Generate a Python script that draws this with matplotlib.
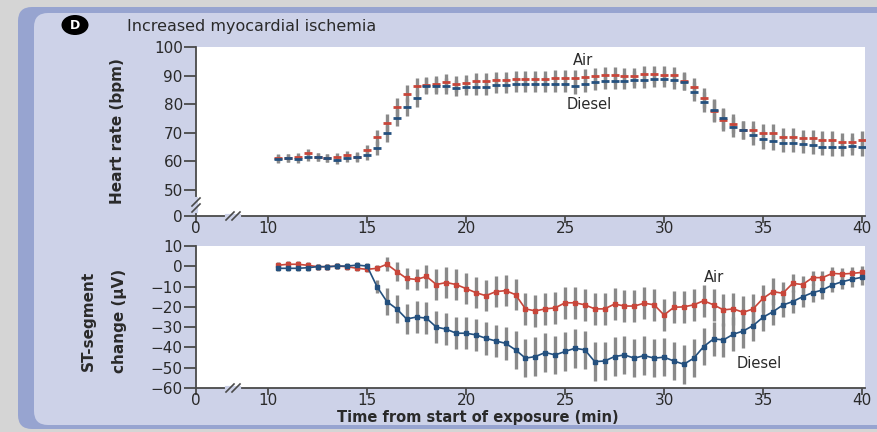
import numpy as np
import matplotlib
matplotlib.use("Agg")
import matplotlib.pyplot as plt
from matplotlib.patches import FancyBboxPatch, Ellipse
from matplotlib.lines import Line2D

# ---------------- data ----------------
times = [10.5, 11.0, 11.5, 12.0, 12.5, 13.0, 13.5, 14.0, 14.5, 15.0,
         15.5, 16.0, 16.5, 17.0, 17.5, 18.0, 18.5, 19.0, 19.5, 20.0,
         20.5, 21.0, 21.5, 22.0, 22.5, 23.0, 23.5, 24.0, 24.5, 25.0,
         25.5, 26.0, 26.5, 27.0, 27.5, 28.0, 28.5, 29.0, 29.5, 30.0,
         30.5, 31.0, 31.5, 32.0, 32.5, 33.0, 33.5, 34.0, 34.5, 35.0,
         35.5, 36.0, 36.5, 37.0, 37.5, 38.0, 38.5, 39.0, 39.5, 40.0]

hr_air = [61.1, 61.3, 61.7, 62.8, 61.7, 61.3, 61.7, 62.2, 61.7, 64.0,
          68.4, 73.5, 79.1, 83.8, 86.4, 86.9, 87.1, 87.9, 87.3, 87.6,
          88.2, 88.2, 88.7, 88.7, 89.0, 89.0, 89.0, 89.0, 89.4, 89.4,
          89.4, 89.6, 89.9, 90.2, 90.2, 89.9, 89.9, 90.6, 90.6, 90.4,
          90.2, 88.2, 86.1, 82.1, 77.7, 74.5, 73.3, 71.0, 71.0, 69.8,
          70.0, 68.6, 68.6, 68.1, 68.1, 67.5, 67.5, 66.9, 66.9, 67.5]
hr_diesel = [60.8, 61.1, 60.8, 61.4, 61.4, 61.3, 60.5, 61.1, 61.4, 62.2,
             64.6, 69.8, 75.4, 79.1, 82.1, 86.4, 86.4, 86.4, 85.6, 86.1,
             86.1, 86.1, 86.7, 86.7, 87.1, 87.1, 87.1, 87.1, 87.1, 87.3,
             86.4, 87.1, 87.9, 88.2, 88.2, 88.2, 88.7, 88.7, 89.0, 89.0,
             88.5, 87.9, 84.4, 80.9, 78.0, 75.1, 72.1, 71.0, 69.2, 67.7,
             67.1, 66.3, 66.3, 66.1, 65.7, 65.1, 64.9, 64.9, 65.4, 64.9]
hr_air_sem = [1.4, 1.4, 1.4, 1.4, 1.4, 1.4, 1.4, 1.4, 1.5, 1.8,
              2.5, 3.0, 3.0, 3.0, 3.0, 2.8, 2.8, 2.8, 2.8, 2.8,
              2.8, 2.8, 2.8, 2.8, 2.8, 2.8, 2.8, 2.8, 2.8, 2.8,
              2.8, 2.8, 2.8, 2.8, 2.8, 2.8, 3.0, 3.0, 3.0, 3.0,
              3.0, 3.0, 3.3, 3.5, 3.8, 3.8, 3.5, 3.3, 3.3, 3.2,
              3.2, 3.0, 3.0, 3.0, 3.0, 3.0, 3.0, 3.0, 3.0, 3.0]
hr_diesel_sem = [1.4, 1.4, 1.4, 1.4, 1.4, 1.4, 1.4, 1.4, 1.5, 1.8,
                 2.5, 3.0, 3.0, 3.0, 3.0, 2.8, 2.8, 2.8, 2.8, 2.8,
                 2.8, 2.8, 2.8, 2.8, 2.8, 2.8, 2.8, 2.8, 2.8, 2.8,
                 2.8, 2.8, 2.8, 2.8, 2.8, 2.8, 3.0, 3.0, 3.0, 3.0,
                 3.0, 3.0, 3.3, 3.5, 3.8, 3.8, 3.5, 3.3, 3.3, 3.2,
                 3.2, 3.0, 3.0, 3.0, 3.0, 3.0, 3.0, 3.0, 3.0, 3.0]

st_air = [0.5, 1.0, 1.0, 0.5, -0.2, -0.2, 0.1, -0.2, -1.0, -1.5,
          -1.0, 1.0, -2.6, -6.0, -6.5, -5.0, -9.0, -8.0, -9.0, -11.0,
          -13.0, -14.5, -12.5, -12.0, -14.0, -21.0, -22.0, -21.0, -20.5, -18.0,
          -18.0, -19.0, -21.0, -21.0, -18.6, -19.6, -19.6, -18.2, -19.0, -24.0,
          -20.2, -20.0, -19.0, -17.0, -19.0, -21.5, -21.0, -22.7, -21.0, -15.8,
          -12.5, -13.3, -8.4, -9.0, -5.6, -5.6, -3.5, -3.8, -3.5, -3.0]
st_diesel = [-1.0, -1.0, -1.0, -0.7, -0.2, -0.2, 0.1, 0.1, 0.6, 0.1,
             -10.0, -17.4, -21.0, -26.0, -25.0, -25.6, -30.0, -31.0, -33.0, -33.0,
             -33.8, -35.5, -36.8, -38.0, -41.2, -45.3, -44.5, -42.5, -43.7, -42.0,
             -40.4, -41.2, -47.0, -46.7, -44.5, -43.7, -45.3, -44.0, -45.3, -44.8,
             -46.7, -48.3, -45.3, -39.6, -35.8, -36.3, -33.5, -31.9, -29.2, -25.1,
             -22.4, -19.1, -17.4, -15.0, -13.0, -11.7, -9.2, -7.6, -6.4, -5.4]
st_air_sem = [1.5, 1.5, 1.5, 1.5, 1.5, 1.5, 1.5, 1.5, 1.5, 1.5,
              1.5, 3.5, 4.5, 5.0, 5.3, 5.5, 7.5, 7.5, 7.5, 7.5,
              7.5, 7.5, 7.5, 7.5, 7.5, 8.0, 8.0, 8.0, 8.0, 8.0,
              8.0, 8.0, 8.0, 8.0, 8.0, 8.0, 8.0, 8.0, 8.0, 8.0,
              8.0, 8.0, 8.0, 8.0, 8.0, 8.0, 8.0, 8.0, 7.5, 6.5,
              6.5, 5.5, 4.5, 4.0, 3.5, 3.5, 3.0, 3.0, 3.0, 3.0]
st_diesel_sem = [1.5, 1.5, 1.5, 1.5, 1.5, 1.5, 1.5, 1.5, 1.5, 1.5,
                 3.0, 6.5, 7.0, 7.5, 8.0, 8.0, 8.0, 8.0, 8.0, 8.0,
                 8.0, 8.0, 8.0, 8.0, 9.5, 9.5, 9.5, 9.5, 9.5, 9.5,
                 9.5, 9.5, 9.5, 9.5, 9.5, 9.5, 9.5, 9.5, 9.5, 9.5,
                 9.5, 9.5, 9.5, 9.0, 8.5, 8.5, 8.5, 8.5, 7.5, 7.0,
                 6.5, 6.0, 5.5, 5.0, 4.5, 4.5, 3.7, 3.7, 3.7, 3.7]

x_ticks = [0, 10, 15, 20, 25, 30, 35, 40]
hr_ticks = [0, 50, 60, 70, 80, 90, 100]
st_ticks = [-60, -50, -40, -30, -20, -10, 0, 10]

# ---------------- style ----------------
RED = "#c8463a"
BLUE = "#24507e"
BAR = "#8a8a8a"
AXC = "#4a4a4a"
TXT = "#2a2a2a"
PANEL = "#cdd2e8"
NARROW = ["Liberation Sans Narrow", "DejaVu Sans"]
plt.rcParams["font.family"] = ["DejaVu Sans"]

W, H = 878, 432
fig = plt.figure(figsize=(W / 100, H / 100), dpi=100, facecolor="#d5d5d5")

# background frame in pixel units
bg = fig.add_axes([0, 0, 1, 1], zorder=-10)
bg.set_xlim(0, W)
bg.set_ylim(H, 0)
bg.axis("off")
bg.add_patch(FancyBboxPatch((18, 7), 920, 422, boxstyle="round,pad=0,rounding_size=14",
                            fc="#97a4d0", ec="none"))
bg.add_patch(FancyBboxPatch((34, 13), 920, 412, boxstyle="round,pad=0,rounding_size=14",
                            fc=PANEL, ec="none"))
bg.add_patch(Ellipse((75, 25), 27, 20, fc="black", ec="none"))
bg.text(75, 25.5, "D", color="white", fontsize=9, fontweight="bold",
        ha="center", va="center")
bg.text(127, 27, "Increased myocardial ischemia", color=TXT, fontsize=11.5,
        ha="left", va="center")


def broken(lo, k):
    """Linear above `lo`, compressed by factor k below it."""
    def fwd(v):
        v = np.asarray(v, dtype=float)
        return np.where(v >= lo, v, lo - (lo - v) * k)

    def inv(u):
        u = np.asarray(u, dtype=float)
        return np.where(u >= lo, u, lo - (lo - u) / k)
    return fwd, inv


def style_axes(ax):
    for s in ("top", "right"):
        ax.spines[s].set_visible(False)
    for s in ("left", "bottom"):
        ax.spines[s].set_color(AXC)
        ax.spines[s].set_linewidth(1.3)
    ax.tick_params(axis="y", direction="out", length=9, width=1.3, color=AXC,
                   pad=0.5, labelsize=11, labelcolor=TXT)
    ax.tick_params(axis="x", direction="out", length=5, width=1.3, color=AXC,
                   pad=-1.5, labelsize=11, labelcolor=TXT)
    ax.set_facecolor("white")


def break_mark(ax, pos, axis):
    """Draw a '//' axis break on the given spine at axes fraction pos."""
    bb = ax.get_window_extent()
    w, h = bb.width, bb.height
    dx, dy = 4.0 / w, 4.0 / h
    if axis == "x":
        ax.add_line(Line2D([pos - 6 / w, pos + 6 / w], [0, 0], transform=ax.transAxes,
                           color=PANEL, lw=3, clip_on=False, zorder=5))
        for off in (-3 / w, 3 / w):
            ax.add_line(Line2D([pos + off - dx, pos + off + dx], [-dy, dy],
                               transform=ax.transAxes, color=AXC, lw=1.2,
                               clip_on=False, zorder=6))
    else:
        ax.add_line(Line2D([0, 0], [pos - 6 / h, pos + 6 / h], transform=ax.transAxes,
                           color=PANEL, lw=3, clip_on=False, zorder=5))
        for off in (-3 / h, 3 / h):
            ax.add_line(Line2D([-dx, dx], [pos + off - dy, pos + off + dy],
                               transform=ax.transAxes, color=AXC, lw=1.2,
                               clip_on=False, zorder=6))


x_fwd, x_inv = broken(10, 0.364)
left, right = 196 / W, 669 / W

# ---------------- heart rate panel ----------------
ax1 = fig.add_axes([left, 1 - 216 / H, right, 169 / H])
style_axes(ax1)
ax1.set_xscale("function", functions=(x_fwd, x_inv))
ax1.set_yscale("function", functions=broken(50, 0.182))
ax1.set_xlim(0, 40.15)
ax1.set_ylim(0, 100.1)
ax1.set_xticks(x_ticks)
ax1.set_yticks(hr_ticks)
ax1.minorticks_off()

for vals, sem in ((hr_air, hr_air_sem), (hr_diesel, hr_diesel_sem)):
    ax1.errorbar(times, vals, yerr=sem, fmt="none", ecolor=BAR, elinewidth=2.4,
                 capsize=0, zorder=2)
ax1.plot(times, hr_air, ls="none", marker="_", ms=6, mew=2, color=RED, zorder=3)
ax1.plot(times, hr_diesel, ls="none", marker="_", ms=6, mew=2, color=BLUE, zorder=3)

ax1.text(25.9, 95.3, "Air", fontsize=10.5, color=TXT, ha="center", va="center")
ax1.text(26.2, 80.0, "Diesel", fontsize=10.5, color=TXT, ha="center", va="center")
ax1.text(-0.117, 0.5, "Heart rate (bpm)", transform=ax1.transAxes, rotation=90,
         ha="center", va="center", fontsize=11, fontweight="bold",
         family=NARROW, color=TXT)

# ---------------- ST-segment panel ----------------
ax2 = fig.add_axes([left, 1 - 388 / H, right, 142 / H])
style_axes(ax2)
ax2.set_xscale("function", functions=(x_fwd, x_inv))
ax2.set_xlim(0, 40.15)
ax2.set_ylim(-60, 10)
ax2.set_xticks(x_ticks)
ax2.set_yticks(st_ticks)
ax2.minorticks_off()

ax2.errorbar(times, st_air, yerr=st_air_sem, fmt="none", ecolor=BAR,
             elinewidth=2.4, capsize=0, zorder=2)
ax2.errorbar(times, st_diesel, yerr=st_diesel_sem, fmt="none", ecolor=BAR,
             elinewidth=2.4, capsize=0, zorder=2)
ax2.plot(times, st_air, color=RED, lw=1.2, marker="s", ms=2.2, zorder=3)
ax2.plot(times, st_diesel, color=BLUE, lw=1.2, marker="s", ms=2.2, zorder=3)

ax2.text(32.5, -5.5, "Air", fontsize=10.5, color=TXT, ha="center", va="center")
ax2.text(34.8, -48.0, "Diesel", fontsize=10.5, color=TXT, ha="center", va="center")
ax2.text(-0.161, 0.47, "ST-segment", transform=ax2.transAxes, rotation=90,
         ha="center", va="center", fontsize=11, fontweight="bold",
         family=NARROW, color=TXT)
ax2.text(-0.115, 0.47, "change (µV)", transform=ax2.transAxes, rotation=90,
         ha="center", va="center", fontsize=11, fontweight="bold",
         family=NARROW, color=TXT)
ax2.text(0.4215, -0.205, "Time from start of exposure (min)",
         transform=ax2.transAxes, ha="center", va="center", fontsize=10.5,
         fontweight="bold", color=TXT)

break_mark(ax1, (233 - 196) / 669, "x")
break_mark(ax1, (216 - 205) / 169, "y")
break_mark(ax2, (233 - 196) / 669, "x")

fig.savefig("out.png", dpi=100, facecolor=fig.get_facecolor())
